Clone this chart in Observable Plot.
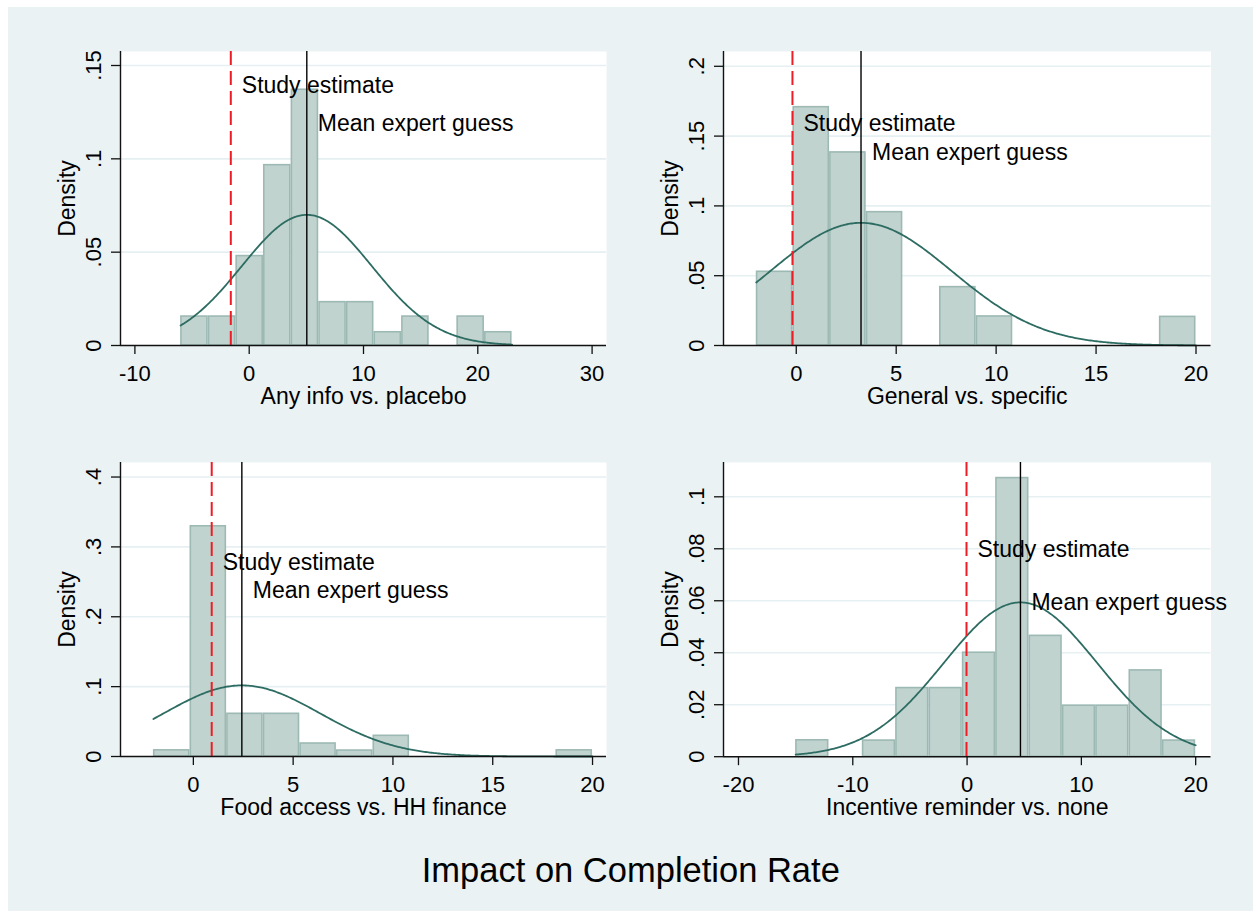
<!DOCTYPE html>
<html>
<head>
<meta charset="utf-8">
<script src="https://cdn.jsdelivr.net/npm/d3@7"></script>
<script src="https://cdn.jsdelivr.net/npm/@observablehq/plot@0.6"></script>
<style>
  html, body { margin: 0; padding: 0; background: #ffffff; }
  body { width: 1253px; height: 911px; position: relative; overflow: hidden; font-family: "Liberation Sans", Arial, sans-serif; }
  #bg { position: absolute; left: 8px; top: 7px; right: 0; bottom: 0; background: #eaf2f3; }
  #title { position: absolute; left: 630.8px; top: 850px; transform: translateX(-50%); white-space: nowrap;
           font-size: 34.5px; line-height: 40px; color: #000; }
  svg { overflow: visible; }
</style>
</head>
<body>
<div id="bg"></div>
<div id="title">Impact on Completion Rate</div>
<script>
// ---------------- data ----------------
const axisTitles = ["Any info vs. placebo", "General vs. specific", "Food access vs. HH finance", "Incentive reminder vs. none"];
const chartTitle = "Impact on Completion Rate";
const studyText = "Study estimate";
const meanText = "Mean expert guess";

// histogram range [first bin start, last bin end]; 12 equal-width bins each
const binRange = [[-6, 23], [-2, 20], [-2, 20], [-15, 20]];
const density1 = [0.0155, 0.0155, 0.0479, 0.0966, 0.137, 0.0232, 0.0232, 0.0071, 0.0155, 0, 0.0155, 0.0071];
const density2 = [0.0528, 0.1707, 0.1383, 0.0955, 0, 0.0418, 0.0208, 0, 0, 0, 0, 0.0205];
const density3 = [0.0088, 0.3295, 0.0611, 0.0611, 0.0186, 0.0085, 0.0296, 0, 0, 0, 0, 0.0088];
const density4 = [0.0063, 0, 0.0062, 0.0264, 0.0264, 0.04, 0.1072, 0.0465, 0.0196, 0.0196, 0.0332, 0.0062];

const studyEstimate = [-1.61, -0.19, 0.92, -0.05];
const expertMean = [5.04, 3.24, 2.43, 4.67];
const expertSD = [5.70, 4.54, 3.92, 6.72];

// label heights (density units)
const studyLabelY = [0.1393, 0.159, 0.277, 0.0795];
const meanLabelY = [0.1188, 0.1385, 0.2368, 0.0592];

const xTicks1 = [-10, 0, 10, 20, 30];
const xTicks2 = [0, 5, 10, 15, 20];
const xTicks3 = [0, 5, 10, 15, 20];
const xTicks4 = [-20, -10, 0, 10, 20];
const yTicks1 = [0, 0.05, 0.1, 0.15];
const yTicks2 = [0, 0.05, 0.1, 0.15, 0.2];
const yTicks3 = [0, 0.1, 0.2, 0.3, 0.4];
const yTicks4 = [0, 0.02, 0.04, 0.06, 0.08, 0.1];

// ---------------- layout ----------------
const panels = [
  {density: density1, xTicks: xTicks1, yTicks: yTicks1, xDomain: [-11.26, 31.26], yDomain: [0, 0.1575], frame: [120, 51, 606, 345]},
  {density: density2, xTicks: xTicks2, yTicks: yTicks2, xDomain: [-3.64, 20.75], yDomain: [0, 0.2106], frame: [723, 51, 1210.5, 345]},
  {density: density3, xTicks: xTicks3, yTicks: yTicks3, xDomain: [-3.65, 20.7], yDomain: [0, 0.4208], frame: [120, 462.3, 606, 756.3]},
  {density: density4, xTicks: xTicks4, yTicks: yTicks4, xDomain: [-21.31, 21.34], yDomain: [0, 0.1132], frame: [723, 462.3, 1210.5, 756.5]}
];

const FONT = "'Liberation Sans', Arial, Helvetica, sans-serif";
const yFmt = d => d === 0 ? "0" : String(d).replace(/^0/, "");
const xFmt = d => String(d);

panels.forEach((p, i) => {
  const [fl, ft, fr, fb] = p.frame;
  const ml = 95, mr = 60, mt = 12, mb = 75;
  const [r0, r1] = binRange[i];
  const w = (r1 - r0) / p.density.length;
  const bins = p.density.map((d, k) => ({x1: r0 + k * w, x2: r0 + (k + 1) * w, d})).filter(b => b.d > 0);
  const mu = expertMean[i], sd = expertSD[i];
  const curve = d3.range(0, 301).map(k => {
    const x = r0 + (r1 - r0) * k / 300;
    const z = (x - mu) / sd;
    return {x, y: Math.exp(-0.5 * z * z) / (sd * Math.sqrt(2 * Math.PI))};
  });

  const chart = Plot.plot({
    width: fr - fl + ml + mr,
    height: fb - ft + mt + mb,
    marginLeft: ml, marginRight: mr, marginTop: mt, marginBottom: mb,
    x: {domain: p.xDomain},
    y: {domain: p.yDomain},
    style: {background: "transparent", fontFamily: FONT, fontSize: "22px", color: "#000", overflow: "visible"},
    marks: [
      Plot.frame({fill: "white", stroke: "none"}),
      Plot.ruleY(p.yTicks.filter(t => t > 0), {stroke: "#e6eff1", strokeWidth: 1.6}),
      Plot.rect(bins, {x1: "x1", x2: "x2", y1: 0, y2: "d", fill: "#c1d3cf", stroke: "#9db9b3", strokeWidth: 1.6, insetLeft: 0.8, insetRight: 0.8}),
      Plot.line(curve, {x: "x", y: "y", stroke: "#2d6c62", strokeWidth: 1.8}),
      Plot.ruleX([studyEstimate[i]], {stroke: "#ee1c25", strokeWidth: 2, strokeDasharray: "14,6"}),
      Plot.ruleX([mu], {stroke: "#000", strokeWidth: 1.4}),
      Plot.text([studyText], {x: studyEstimate[i], y: studyLabelY[i], text: d => d, textAnchor: "start", dx: 11, fontSize: 23, fill: "#000"}),
      Plot.text([meanText], {x: mu, y: meanLabelY[i], text: d => d, textAnchor: "start", dx: 11, fontSize: 23, fill: "#000"}),
      Plot.ruleX([p.xDomain[0]], {stroke: "#111", strokeWidth: 1.4}),
      Plot.ruleY([0], {stroke: "#111", strokeWidth: 1.4}),
      Plot.axisX(p.xTicks, {anchor: "bottom", tickSize: 9, tickPadding: 11, tickFormat: xFmt, fontSize: 22, label: null, stroke: "#111", strokeWidth: 1.3}),
      Plot.axisY(p.yTicks, {anchor: "left", tickSize: 9, tickPadding: 11, tickRotate: -90, tickFormat: yFmt, fontSize: 22, label: null, stroke: "#111", strokeWidth: 1.3}),
      Plot.text([axisTitles[i]], {frameAnchor: "bottom", lineAnchor: "middle", textAnchor: "middle", dy: 51, text: d => d, fontSize: 23, fill: "#000"}),
      Plot.text(["Density"], {frameAnchor: "left", lineAnchor: "middle", textAnchor: "middle", dx: -53, rotate: -90, text: d => d, fontSize: 23, fill: "#000"})
    ]
  });
  chart.style.position = "absolute";
  chart.style.left = (fl - ml) + "px";
  chart.style.top = (ft - mt) + "px";
  document.body.appendChild(chart);
});
</script>
</body>
</html>
